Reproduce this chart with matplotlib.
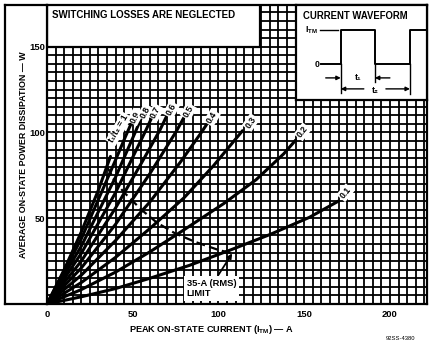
import numpy as np
import matplotlib
matplotlib.use("Agg")
import matplotlib.pyplot as plt
from matplotlib.ticker import FixedLocator, NullLocator
from matplotlib.patches import Rectangle
from matplotlib.lines import Line2D
import matplotlib.font_manager as fm

# ---------------- data ----------------
ratios = ["t\u2081/t\u2082 = 1", "0.9", "0.8", "0.7", "0.6", "0.5", "0.4", "0.3", "0.2", "0.1"]

I_10 = [0, 10, 20, 30, 37]
P_10 = [0, 20, 42, 66.5, 86]
I_09 = [0, 20, 40, 45.5, 49]
P_09 = [0, 38, 84, 97, 105]
I_08 = [0, 20, 40, 51.4, 55]
P_08 = [0, 33.7, 74, 100, 108.5]
I_07 = [0, 20, 40, 58, 61]
P_07 = [0, 29.5, 65, 102, 108.5]
I_06 = [0, 20, 40, 55, 65.9, 70]
P_06 = [0, 25, 56, 82, 101.5, 110]
I_05 = [0, 20, 40, 60, 75.6, 80]
P_05 = [0, 21, 46.5, 76, 101, 109]
I_04 = [0, 20, 40, 60, 78, 90, 93]
P_04 = [0, 16.8, 37, 59.5, 83, 100, 104.5]
I_03 = [0, 20, 40, 60, 80, 97, 114]
P_03 = [0, 12.5, 27.2, 44, 62, 80.5, 101]
I_02 = [0, 20, 40, 60, 78, 103, 122, 138, 145]
P_02 = [0, 8.4, 18.6, 30.4, 42, 58.5, 72.5, 87.5, 95.5]
I_01 = [0, 20, 40, 60, 83, 107, 130, 153, 170]
P_01 = [0, 4.2, 9, 15, 22.5, 31.5, 40.5, 50.5, 60]

# 35-A (RMS) limit
I_lim = [35, 37, 39, 42, 45, 50, 55, 64, 75, 87, 100, 108]
P_lim = [80, 76.5, 72.5, 68.5, 65, 60, 55, 47.5, 41, 36, 31.5, 29.5]

x_ticks = [0, 50, 100, 150, 200]
y_ticks = [50, 100, 150]
grid_step = 5

curves_I = [I_10, I_09, I_08, I_07, I_06, I_05, I_04, I_03, I_02, I_01]
curves_P = [P_10, P_09, P_08, P_07, P_06, P_05, P_04, P_03, P_02, P_01]

# ---------------- style ----------------
names = {f.name for f in fm.fontManager.ttflist}
NARROW = "Liberation Sans Narrow" in names
FONT = "Liberation Sans Narrow" if NARROW else "Liberation Sans"
k = 1.0 if NARROW else 0.84

plt.rcParams["font.family"] = [FONT, "DejaVu Sans"]
plt.rcParams["font.weight"] = "bold"
plt.rcParams["mathtext.fontset"] = "custom"
plt.rcParams["mathtext.rm"] = FONT + ":bold"
plt.rcParams["mathtext.bf"] = FONT + ":bold"
plt.rcParams["mathtext.it"] = FONT + ":bold"

W, H = 430, 344
fig = plt.figure(figsize=(W / 100, H / 100), dpi=100)
fig.patch.set_facecolor("white")


def fx(px):
    return px / W


def fy(py):
    return 1 - py / H


XMAX, YMAX = 221.6, 174.3
ax = fig.add_axes([fx(47), fy(304), fx(427) - fx(47), fy(5) - fy(304)])
ax.set_xlim(0, XMAX)
ax.set_ylim(0, YMAX)

# dense graph-paper grid
gx = np.arange(grid_step, XMAX, grid_step)
gy = np.arange(grid_step, YMAX, grid_step)
ax.vlines(gx, 0, YMAX, colors="black", lw=1.3, zorder=1)
ax.hlines(gy, 0, XMAX, colors="black", lw=1.3, zorder=1)

ax.xaxis.set_major_locator(FixedLocator(x_ticks))
ax.yaxis.set_major_locator(FixedLocator(y_ticks))
ax.xaxis.set_minor_locator(NullLocator())
ax.yaxis.set_minor_locator(NullLocator())
ax.tick_params(which="both", length=0)
ax.tick_params(axis="x", labelsize=8 * k, pad=4)
ax.tick_params(axis="y", labelsize=8 * k, pad=1)
for s in ax.spines.values():
    s.set_linewidth(1.6)
    s.set_color("black")
    s.set_zorder(7)

label_offsets = [(6, 20), (3, 5), (3, 4), (3, 4), (3, 4), (3, 4), (4, 5), (6, 6), (5, 6), (5, 6)]
label_rot = [60, 62, 62, 62, 62, 60, 58, 55, 52, 50]

for I, P, lab, off, rot in zip(curves_I, curves_P, ratios, label_offsets, label_rot):
    ax.plot(I, P, color="black", lw=2.2, solid_capstyle="round", zorder=3)
    ax.annotate(lab, xy=(I[-1], P[-1]), xytext=off, textcoords="offset points",
                rotation=rot, rotation_mode="anchor", ha="center", va="center",
                fontsize=7.5 * k, zorder=6,
                bbox=dict(boxstyle="square,pad=0.15", fc="white", ec="none"))

ax.plot(I_lim, P_lim, color="black", lw=1.6, ls=(0, (4, 2)), zorder=3)

ax.text(81.5, 9, "35-A (RMS)\nLIMIT", ha="left", va="center", fontsize=8 * k,
        linespacing=1.25, zorder=6,
        bbox=dict(boxstyle="square,pad=0.25", fc="white", ec="none"))
ax.annotate("", xy=(I_lim[-1], P_lim[-1]), xytext=(100, 17),
            arrowprops=dict(arrowstyle="-|>", color="black", lw=1.3, mutation_scale=7,
                            shrinkA=0, shrinkB=0), zorder=6)

# "SWITCHING LOSSES ARE NEGLECTED" box
ax.add_patch(Rectangle((0, 150), 124, 40, fc="white", ec="black", lw=1.6, zorder=4))
ax.text(3, 168.5, "SWITCHING LOSSES ARE NEGLECTED", ha="left", va="center",
        fontsize=8.4 * k, zorder=5)

# waveform inset box
p0 = fig.transFigure.inverted().transform(ax.transData.transform((145, 119)))
p1 = fig.transFigure.inverted().transform(ax.transData.transform((XMAX, YMAX)))
ax2 = fig.add_axes([p0[0], p0[1], p1[0] - p0[0], p1[1] - p0[1]])
ax2.set_facecolor("white")
ax2.set_xlim(0, 131)
ax2.set_ylim(95, 0)
ax2.set_xticks([])
ax2.set_yticks([])
for s in ax2.spines.values():
    s.set_linewidth(1.6)

ax2.text(7, 11, "CURRENT WAVEFORM", ha="left", va="center", fontsize=8.2 * k)
ax2.text(9, 25, r"I$_{\mathbf{TM}}$", ha="left", va="center", fontsize=7.5 * k)
ax2.text(21.5, 59.3, "0", ha="center", va="center", fontsize=7.5 * k)
ax2.plot([24, 42], [25.5, 25.5], color="black", lw=1.0)
ax2.plot([25, 45, 45, 79, 79, 114, 114, 131], [59.3, 59.3, 25.5, 25.5, 59.3, 59.3, 25.5, 25.5],
         color="black", lw=1.4)
ax2.plot([45, 45], [59.3, 88], color="black", lw=1.0)
ax2.plot([79, 79], [59.3, 77], color="black", lw=1.0)
ax2.plot([114, 114], [59.3, 89], color="black", lw=1.0)
arw = dict(arrowstyle="-|>", color="black", lw=1.0, mutation_scale=6, shrinkA=0, shrinkB=0)
ax2.annotate("", xy=(45, 73), xytext=(30, 73), arrowprops=arw)
ax2.annotate("", xy=(79, 73), xytext=(94, 73), arrowprops=arw)
ax2.text(62, 73, "t\u2081", ha="center", va="center", fontsize=7.5 * k)
ax2.annotate("", xy=(45, 84), xytext=(68, 84), arrowprops=arw)
ax2.annotate("", xy=(114, 84), xytext=(90, 84), arrowprops=arw)
ax2.text(79, 86, "t\u2082", ha="center", va="center", fontsize=7.5 * k)

# outer frame left of the plot
for xs, ys in (([5, 5], [5, 304]), ([5, 47], [5, 5]), ([5, 47], [304, 304])):
    fig.add_artist(Line2D([fx(v) for v in xs], [fy(v) for v in ys], color="black",
                          lw=1.6, transform=fig.transFigure))

fig.text(fx(24), fy(154.5), "AVERAGE ON-STATE POWER DISSIPATION \u2014 W", rotation=90,
         ha="center", va="center", fontsize=7.6 * k)
fig.text(fx(211), fy(329), "PEAK ON-STATE CURRENT (I$_{\\mathbf{TM}}$) \u2014 A",
         ha="center", va="center", fontsize=7.8 * k)
fig.text(fx(400), fy(339), "92SS-4380", ha="center", va="center", fontsize=5 * k, fontweight="normal")

fig.savefig("out.png", dpi=100, facecolor="white")
